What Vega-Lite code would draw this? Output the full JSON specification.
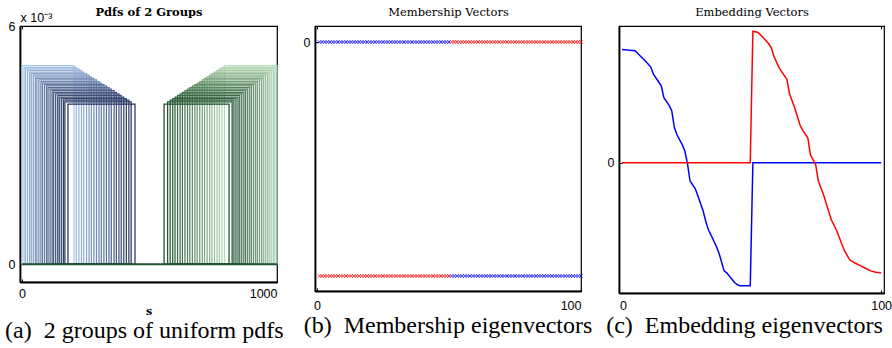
{
"$schema": "https://vega.github.io/schema/vega-lite/v6.json",
"background": "white",
"padding": {"left": 4, "top": 5, "right": 0, "bottom": 0},
"autosize": {"type": "pad"},
"spacing": 38,
"bounds": "flush",
"config": {
  "view": {"stroke": "black", "strokeWidth": 1.2},
  "axis": {"labelFont": "Liberation Sans", "labelFontSize": 12.5, "labelColor": "black", "domainColor": "black", "domainWidth": 1.8, "tickColor": "black", "tickWidth": 1, "grid": false, "titleColor": "black", "titleFontWeight": "normal"},
  "title": {"font": "Liberation Serif", "fontSize": 24, "fontWeight": "normal", "color": "black"}
},
"datasets": {
  "pdfBlue": [
    {"k":1,"a":0,"b":204,"h":0.00500},{"k":2,"a":8,"b":213,"h":0.00496},{"k":3,"a":14,"b":223,"h":0.00492},{"k":4,"a":22,"b":233,"h":0.00488},{"k":5,"a":30,"b":242,"h":0.00484},
    {"k":6,"a":36,"b":253,"h":0.00480},{"k":7,"a":44,"b":263,"h":0.00476},{"k":8,"a":52,"b":272,"h":0.00472},{"k":9,"a":58,"b":282,"h":0.00468},{"k":10,"a":66,"b":292,"h":0.00464},
    {"k":11,"a":74,"b":302,"h":0.00460},{"k":12,"a":80,"b":311,"h":0.00456},{"k":13,"a":88,"b":321,"h":0.00452},{"k":14,"a":96,"b":331,"h":0.00449},{"k":15,"a":102,"b":341,"h":0.00445},
    {"k":16,"a":110,"b":350,"h":0.00441},{"k":17,"a":118,"b":361,"h":0.00437},{"k":18,"a":124,"b":370,"h":0.00433},{"k":19,"a":132,"b":380,"h":0.00429},{"k":20,"a":140,"b":389,"h":0.00425},
    {"k":21,"a":146,"b":399,"h":0.00421},{"k":22,"a":154,"b":409,"h":0.00417},{"k":23,"a":162,"b":419,"h":0.00413},{"k":24,"a":168,"b":428,"h":0.00409},{"k":25,"a":180,"b":443,"h":0.00403}
  ],
  "pdfGreen": [
    {"k":25,"a":794,"b":1000,"h":0.00500},{"k":24,"a":784,"b":992,"h":0.00496},{"k":23,"a":774,"b":985,"h":0.00492},{"k":22,"a":765,"b":977,"h":0.00488},{"k":21,"a":755,"b":969,"h":0.00484},
    {"k":20,"a":745,"b":962,"h":0.00480},{"k":19,"a":736,"b":954,"h":0.00476},{"k":18,"a":726,"b":946,"h":0.00472},{"k":17,"a":716,"b":939,"h":0.00468},{"k":16,"a":707,"b":931,"h":0.00464},
    {"k":15,"a":697,"b":923,"h":0.00460},{"k":14,"a":687,"b":916,"h":0.00456},{"k":13,"a":678,"b":908,"h":0.00452},{"k":12,"a":668,"b":900,"h":0.00449},{"k":11,"a":658,"b":893,"h":0.00445},
    {"k":10,"a":649,"b":885,"h":0.00441},{"k":9,"a":639,"b":877,"h":0.00437},{"k":8,"a":629,"b":870,"h":0.00433},{"k":7,"a":620,"b":862,"h":0.00429},{"k":6,"a":610,"b":854,"h":0.00425},
    {"k":5,"a":600,"b":847,"h":0.00421},{"k":4,"a":591,"b":839,"h":0.00417},{"k":3,"a":581,"b":831,"h":0.00413},{"k":2,"a":571,"b":824,"h":0.00409},{"k":1,"a":557,"b":812,"h":0.00403}
  ],
  "mem": [
    {"i":1,"blue":0,"red":-0.1414},{"i":2,"blue":0,"red":-0.1414},{"i":3,"blue":0,"red":-0.1414},{"i":4,"blue":0,"red":-0.1414},{"i":5,"blue":0,"red":-0.1414},
    {"i":6,"blue":0,"red":-0.1414},{"i":7,"blue":0,"red":-0.1414},{"i":8,"blue":0,"red":-0.1414},{"i":9,"blue":0,"red":-0.1414},{"i":10,"blue":0,"red":-0.1414},
    {"i":11,"blue":0,"red":-0.1414},{"i":12,"blue":0,"red":-0.1414},{"i":13,"blue":0,"red":-0.1414},{"i":14,"blue":0,"red":-0.1414},{"i":15,"blue":0,"red":-0.1414},
    {"i":16,"blue":0,"red":-0.1414},{"i":17,"blue":0,"red":-0.1414},{"i":18,"blue":0,"red":-0.1414},{"i":19,"blue":0,"red":-0.1414},{"i":20,"blue":0,"red":-0.1414},
    {"i":21,"blue":0,"red":-0.1414},{"i":22,"blue":0,"red":-0.1414},{"i":23,"blue":0,"red":-0.1414},{"i":24,"blue":0,"red":-0.1414},{"i":25,"blue":0,"red":-0.1414},
    {"i":26,"blue":0,"red":-0.1414},{"i":27,"blue":0,"red":-0.1414},{"i":28,"blue":0,"red":-0.1414},{"i":29,"blue":0,"red":-0.1414},{"i":30,"blue":0,"red":-0.1414},
    {"i":31,"blue":0,"red":-0.1414},{"i":32,"blue":0,"red":-0.1414},{"i":33,"blue":0,"red":-0.1414},{"i":34,"blue":0,"red":-0.1414},{"i":35,"blue":0,"red":-0.1414},
    {"i":36,"blue":0,"red":-0.1414},{"i":37,"blue":0,"red":-0.1414},{"i":38,"blue":0,"red":-0.1414},{"i":39,"blue":0,"red":-0.1414},{"i":40,"blue":0,"red":-0.1414},
    {"i":41,"blue":0,"red":-0.1414},{"i":42,"blue":0,"red":-0.1414},{"i":43,"blue":0,"red":-0.1414},{"i":44,"blue":0,"red":-0.1414},{"i":45,"blue":0,"red":-0.1414},
    {"i":46,"blue":0,"red":-0.1414},{"i":47,"blue":0,"red":-0.1414},{"i":48,"blue":0,"red":-0.1414},{"i":49,"blue":0,"red":-0.1414},{"i":50,"blue":0,"red":-0.1414},
    {"i":51,"blue":-0.1414,"red":0},{"i":52,"blue":-0.1414,"red":0},{"i":53,"blue":-0.1414,"red":0},{"i":54,"blue":-0.1414,"red":0},{"i":55,"blue":-0.1414,"red":0},
    {"i":56,"blue":-0.1414,"red":0},{"i":57,"blue":-0.1414,"red":0},{"i":58,"blue":-0.1414,"red":0},{"i":59,"blue":-0.1414,"red":0},{"i":60,"blue":-0.1414,"red":0},
    {"i":61,"blue":-0.1414,"red":0},{"i":62,"blue":-0.1414,"red":0},{"i":63,"blue":-0.1414,"red":0},{"i":64,"blue":-0.1414,"red":0},{"i":65,"blue":-0.1414,"red":0},
    {"i":66,"blue":-0.1414,"red":0},{"i":67,"blue":-0.1414,"red":0},{"i":68,"blue":-0.1414,"red":0},{"i":69,"blue":-0.1414,"red":0},{"i":70,"blue":-0.1414,"red":0},
    {"i":71,"blue":-0.1414,"red":0},{"i":72,"blue":-0.1414,"red":0},{"i":73,"blue":-0.1414,"red":0},{"i":74,"blue":-0.1414,"red":0},{"i":75,"blue":-0.1414,"red":0},
    {"i":76,"blue":-0.1414,"red":0},{"i":77,"blue":-0.1414,"red":0},{"i":78,"blue":-0.1414,"red":0},{"i":79,"blue":-0.1414,"red":0},{"i":80,"blue":-0.1414,"red":0},
    {"i":81,"blue":-0.1414,"red":0},{"i":82,"blue":-0.1414,"red":0},{"i":83,"blue":-0.1414,"red":0},{"i":84,"blue":-0.1414,"red":0},{"i":85,"blue":-0.1414,"red":0},
    {"i":86,"blue":-0.1414,"red":0},{"i":87,"blue":-0.1414,"red":0},{"i":88,"blue":-0.1414,"red":0},{"i":89,"blue":-0.1414,"red":0},{"i":90,"blue":-0.1414,"red":0},
    {"i":91,"blue":-0.1414,"red":0},{"i":92,"blue":-0.1414,"red":0},{"i":93,"blue":-0.1414,"red":0},{"i":94,"blue":-0.1414,"red":0},{"i":95,"blue":-0.1414,"red":0},
    {"i":96,"blue":-0.1414,"red":0},{"i":97,"blue":-0.1414,"red":0},{"i":98,"blue":-0.1414,"red":0},{"i":99,"blue":-0.1414,"red":0},{"i":100,"blue":-0.1414,"red":0}
  ],
  "embBlue": [
    {"i":1,"v":0.174},{"i":3,"v":0.173},{"i":6,"v":0.172},{"i":8,"v":0.164},{"i":10,"v":0.156},{"i":12,"v":0.147},{"i":13,"v":0.136},{"i":15,"v":0.124},{"i":16,"v":0.118},{"i":17,"v":0.100},
    {"i":19,"v":0.088},{"i":20,"v":0.080},{"i":21,"v":0.054},{"i":22,"v":0.043},{"i":24,"v":0.028},{"i":25,"v":0.018},{"i":26,"v":-0.001},{"i":27,"v":-0.028},{"i":29,"v":-0.040},{"i":30,"v":-0.051},
    {"i":32,"v":-0.074},{"i":33,"v":-0.090},{"i":34,"v":-0.103},{"i":35,"v":-0.111},{"i":37,"v":-0.128},{"i":38,"v":-0.138},{"i":40,"v":-0.166},{"i":41,"v":-0.169},{"i":42,"v":-0.174},{"i":44,"v":-0.184},
    {"i":45,"v":-0.187},{"i":46,"v":-0.189},{"i":50,"v":-0.189},{"i":51,"v":0},{"i":100,"v":0}
  ],
  "embRed": [
    {"i":1,"v":0},{"i":50,"v":0},{"i":51,"v":0.202},{"i":53,"v":0.200},{"i":55,"v":0.192},{"i":57,"v":0.183},{"i":58,"v":0.177},{"i":59,"v":0.164},{"i":61,"v":0.146},{"i":62,"v":0.140},
    {"i":64,"v":0.128},{"i":65,"v":0.106},{"i":67,"v":0.084},{"i":69,"v":0.058},{"i":70,"v":0.050},{"i":72,"v":0.038},{"i":73,"v":0.012},{"i":75,"v":-0.003},{"i":76,"v":-0.028},{"i":78,"v":-0.049},
    {"i":80,"v":-0.075},{"i":81,"v":-0.088},{"i":83,"v":-0.104},{"i":85,"v":-0.125},{"i":86,"v":-0.135},{"i":88,"v":-0.149},{"i":90,"v":-0.154},{"i":92,"v":-0.158},{"i":94,"v":-0.162},{"i":96,"v":-0.166},
    {"i":98,"v":-0.168},{"i":100,"v":-0.169}
  ]
},
"hconcat": [
  {
    "width": 257, "height": 256,
    "title": {"text": "(a)\u20022 groups of uniform pdfs", "orient": "bottom", "anchor": "start", "frame": "group", "dx": -15, "offset": 2},
    "layer": [
      {
        "data": {"name": "pdfBlue"},
        "mark": {"type": "rect", "filled": false, "strokeWidth": 1.25},
        "encoding": {
          "x": {"field": "a", "type": "quantitative", "scale": {"domain": [-8, 1000], "nice": false, "zero": false},
                "axis": {"orient": "bottom", "values": [0, 1000], "format": "d", "tickSize": -3, "labelPadding": 8, "title": "s", "titleFont": "DejaVu Serif", "titleFontWeight": "bold", "titleFontSize": 11, "titlePadding": 6}},
          "x2": {"field": "b"},
          "y": {"field": "h", "type": "quantitative", "scale": {"domain": [-0.00045, 0.006], "nice": false, "zero": false},
                "axis": {"values": [0, 0.006], "labelExpr": "datum.value == 0 ? '0' : '6'", "tickSize": -3, "labelPadding": 8, "title": "x 10\u207b\u00b3", "titleFont": "Liberation Sans", "titleFontSize": 12.5, "titleAngle": 0, "titleAlign": "left", "titleBaseline": "alphabetic", "titleX": 0, "titleY": -5}},
          "y2": {"datum": 0},
          "color": {"field": "k", "type": "quantitative", "scale": {"domain": [1, 25], "range": ["#a9c6ea", "#24325c"]}, "legend": null}
        }
      },
      {
        "data": {"name": "pdfGreen"},
        "mark": {"type": "rect", "filled": false, "strokeWidth": 1.25},
        "encoding": {
          "x": {"field": "a", "type": "quantitative", "scale": {"domain": [-8, 1000], "nice": false, "zero": false},
                "axis": {"orient": "top", "values": [0, 1000], "tickSize": -3, "labels": false, "domainWidth": 1.2, "title": "Pdfs of 2 Groups", "titleFont": "DejaVu Serif", "titleFontWeight": "bold", "titleFontSize": 11.5, "titlePadding": 8}},
          "x2": {"field": "b"},
          "y": {"field": "h", "type": "quantitative", "scale": {"domain": [-0.00045, 0.006], "nice": false, "zero": false},
                "axis": {"values": [0, 0.006], "labelExpr": "datum.value == 0 ? '0' : '6'", "tickSize": -3, "labelPadding": 8, "title": "x 10\u207b\u00b3", "titleFont": "Liberation Sans", "titleFontSize": 12.5, "titleAngle": 0, "titleAlign": "left", "titleBaseline": "alphabetic", "titleX": 0, "titleY": -5}},
          "y2": {"datum": 0},
          "color": {"field": "k", "type": "quantitative", "scale": {"domain": [1, 25], "range": ["#1b4f2d", "#b6d9b6"]}, "legend": null}
        }
      },
      {
        "data": {"values": [{"s0": 0, "s1": 1000}]},
        "mark": {"type": "rule", "color": "#1e5632", "strokeWidth": 2},
        "encoding": {
          "x": {"field": "s0", "type": "quantitative", "scale": {"domain": [-8, 1000], "nice": false, "zero": false}, "axis": null},
          "x2": {"field": "s1"},
          "y": {"datum": 0, "type": "quantitative", "scale": {"domain": [-0.00045, 0.006], "nice": false, "zero": false},
                "axis": {"values": [0, 0.006], "labelExpr": "datum.value == 0 ? '0' : '6'", "tickSize": -3, "labelPadding": 8, "title": "x 10\u207b\u00b3", "titleFont": "Liberation Sans", "titleFontSize": 12.5, "titleAngle": 0, "titleAlign": "left", "titleBaseline": "alphabetic", "titleX": 0, "titleY": -5}}
        }
      }
    ],
    "resolve": {"scale": {"color": "independent"}, "axis": {"x": "independent"}}
  },
  {
    "width": 266, "height": 265,
    "title": {"text": "(b)\u2002Membership eigenvectors", "orient": "bottom", "anchor": "middle", "frame": "group", "offset": 2},
    "layer": [
      {
        "data": {"name": "mem"},
        "mark": {"type": "point", "shape": "M-1,-1L1,1M-1,1L1,-1", "filled": false, "color": "#0000ff", "size": 11, "strokeWidth": 0.8, "opacity": 1},
        "encoding": {
          "x": {"field": "i", "type": "quantitative", "scale": {"domain": [-0.72, 100], "nice": false, "zero": false},
                "axis": {"orient": "bottom", "values": [0, 100], "format": "d", "tickSize": -3, "labelPadding": 11, "title": null}},
          "y": {"field": "blue", "type": "quantitative", "scale": {"domain": [-0.1505, 0.0097], "nice": false, "zero": false},
                "axis": {"values": [0], "format": "d", "tickSize": -3, "labelPadding": 8, "title": null}}
        }
      },
      {
        "data": {"name": "mem"},
        "mark": {"type": "point", "shape": "M-1,-1L1,1M-1,1L1,-1", "filled": false, "color": "#ff0000", "size": 11, "strokeWidth": 0.8, "opacity": 1},
        "encoding": {
          "x": {"field": "i", "type": "quantitative", "scale": {"domain": [-0.72, 100], "nice": false, "zero": false},
                "axis": {"orient": "top", "values": [0, 100], "tickSize": -3, "labels": false, "domainWidth": 1.2, "title": "Membership Vectors", "titleFont": "DejaVu Serif", "titleFontSize": 11.5, "titlePadding": 8}},
          "y": {"field": "red", "type": "quantitative", "scale": {"domain": [-0.1505, 0.0097], "nice": false, "zero": false},
                "axis": {"values": [0], "format": "d", "tickSize": -3, "labelPadding": 8, "title": null}}
        }
      }
    ],
    "resolve": {"axis": {"x": "independent"}}
  },
  {
    "width": 265, "height": 267,
    "title": {"text": "(c)\u2002Embedding eigenvectors", "orient": "bottom", "anchor": "middle", "frame": "group", "dx": -7, "offset": 2},
    "layer": [
      {
        "data": {"name": "embBlue"},
        "mark": {"type": "line", "color": "#0000ff", "strokeWidth": 1.5},
        "encoding": {
          "x": {"field": "i", "type": "quantitative", "scale": {"domain": [-0.15, 101.1], "nice": false, "zero": false},
                "axis": {"orient": "bottom", "values": [0, 100], "format": "d", "tickSize": -3, "labelPadding": 9.5, "title": null}},
          "y": {"field": "v", "type": "quantitative", "scale": {"domain": [-0.2, 0.21], "nice": false, "zero": false},
                "axis": {"values": [0], "format": "d", "tickSize": -3, "labelPadding": 8, "title": null}}
        }
      },
      {
        "data": {"name": "embRed"},
        "mark": {"type": "line", "color": "#ff0000", "strokeWidth": 1.5},
        "encoding": {
          "x": {"field": "i", "type": "quantitative", "scale": {"domain": [-0.15, 101.1], "nice": false, "zero": false},
                "axis": {"orient": "top", "values": [0, 100], "tickSize": -3, "labels": false, "domainWidth": 1.2, "title": "Embedding Vectors", "titleFont": "DejaVu Serif", "titleFontSize": 11.5, "titlePadding": 8}},
          "y": {"field": "v", "type": "quantitative", "scale": {"domain": [-0.2, 0.21], "nice": false, "zero": false},
                "axis": {"values": [0], "format": "d", "tickSize": -3, "labelPadding": 8, "title": null}}
        }
      }
    ],
    "resolve": {"axis": {"x": "independent"}}
  }
]
}
